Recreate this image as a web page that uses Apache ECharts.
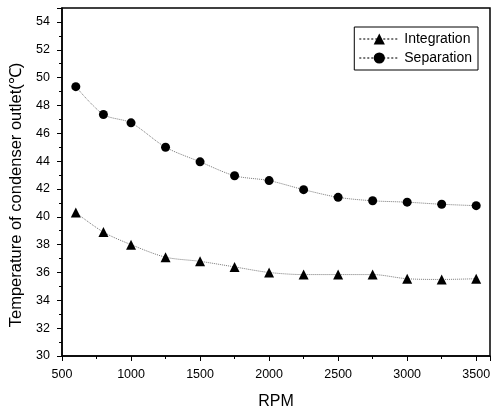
<!DOCTYPE html>
<html>
<head>
    <meta charset="utf-8">
    <title>Temperature of condenser outlet vs RPM</title>
    <script src="https://cdn.jsdelivr.net/npm/echarts@6/dist/echarts.min.js"></script>
    <style>
        body { margin: 0; background: #fff; }
    </style>
</head>
<body>
    <div id="main" style="width: 492px;height:408px;"></div>
    <script type="text/javascript">
        // data
        var rpm = [600, 800, 1000, 1250, 1500, 1750, 2000, 2250, 2500, 2750, 3000, 3250, 3500];
        var integration = [40.3, 38.9, 38.0, 37.1, 36.8, 36.4, 36.0, 35.85, 35.85, 35.85, 35.55, 35.5, 35.55];
        var separation = [49.35, 47.35, 46.75, 45.0, 43.95, 42.95, 42.6, 41.95, 41.4, 41.15, 41.05, 40.9, 40.8];

        function pairs(xs, ys) {
            return xs.map(function (x, i) { return [x, ys[i]]; });
        }

        var myChart = echarts.init(document.getElementById('main'));
        var font = 'Liberation Sans, Arial, sans-serif';
        var lineStyle = { color: '#777', width: 1, type: 'dotted' };

        var option = {
            animation: false,
            textStyle: { fontFamily: font, color: '#000' },
            grid: {
                left: 62, right: 2, top: 8, bottom: 52,
                outerBoundsMode: 'none',
                show: true, borderColor: '#000', borderWidth: 1.5
            },
            legend: {
                right: 14, top: 27,
                orient: 'vertical',
                backgroundColor: '#fff',
                borderColor: '#000', borderWidth: 1,
                padding: [5, 6, 5, 4],
                itemGap: 5,
                itemWidth: 40, itemHeight: 14,
                textStyle: { fontSize: 14, color: '#000', fontFamily: font },
                data: ['Integration', 'Separation']
            },
            xAxis: {
                type: 'value',
                min: 500, max: 3600, interval: 500,
                name: 'RPM', nameLocation: 'middle', nameGap: 38,
                nameTextStyle: { fontSize: 16, color: '#000' },
                axisLine: { lineStyle: { color: '#000', width: 1.5 } },
                axisTick: { length: 5, lineStyle: { color: '#000' } },
                minorTick: { show: true, splitNumber: 2, length: 3, lineStyle: { color: '#000' } },
                axisLabel: { fontSize: 12.5, color: '#000', margin: 12, showMaxLabel: false,
                    formatter: function (v) { return String(v); } },
                splitLine: { show: false }
            },
            yAxis: {
                type: 'value',
                min: 30, max: 55, interval: 2,
                name: 'Temperature of condenser outlet(\u2103)', nameLocation: 'middle', nameGap: 32,
                nameTextStyle: { fontSize: 16.5, color: '#000', padding: [0, 26, 0, 0] },
                axisLine: { lineStyle: { color: '#000', width: 1.5 } },
                axisTick: { length: 5, lineStyle: { color: '#000' } },
                minorTick: { show: true, splitNumber: 2, length: 3, lineStyle: { color: '#000' } },
                axisLabel: { fontSize: 12.5, color: '#000', margin: 12, showMaxLabel: false },
                splitLine: { show: false }
            },
            series: [{
                name: 'Integration',
                type: 'line',
                data: pairs(rpm, integration),
                symbol: 'triangle', symbolSize: 10,
                smooth: 0.3,
                itemStyle: { color: '#000' },
                lineStyle: lineStyle
            }, {
                name: 'Separation',
                type: 'line',
                data: pairs(rpm, separation),
                symbol: 'circle', symbolSize: 9,
                smooth: 0.3,
                itemStyle: { color: '#000' },
                lineStyle: lineStyle
            }]
        };

        myChart.setOption(option);
    </script>
</body>
</html>
